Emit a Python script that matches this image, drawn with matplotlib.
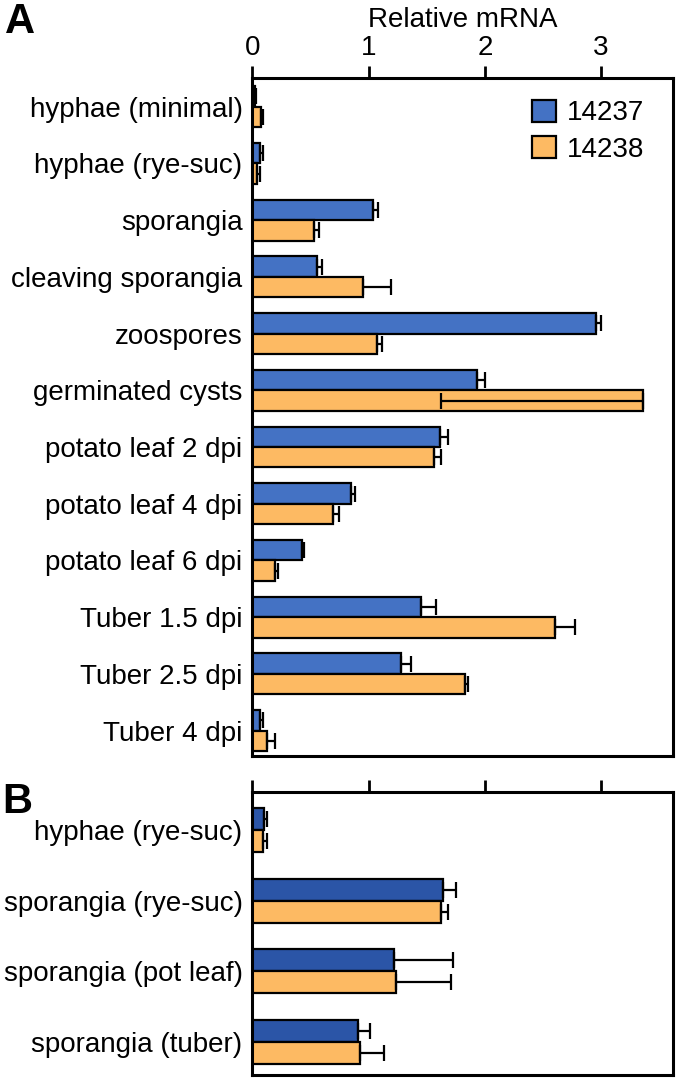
import numpy as np
import matplotlib
matplotlib.use("Agg")
import matplotlib.pyplot as plt
from matplotlib.patches import Patch

plt.rcParams['font.family'] = ['Liberation Sans', 'DejaVu Sans']

# ── data ──────────────────────────────────────────
samples_a = ["hyphae (minimal)", "hyphae (rye-suc)", "sporangia", "cleaving sporangia",
             "zoospores", "germinated cysts", "potato leaf 2 dpi", "potato leaf 4 dpi",
             "potato leaf 6 dpi", "Tuber 1.5 dpi", "Tuber 2.5 dpi", "Tuber 4 dpi"]
a_14237 = [0.025, 0.07, 1.034, 0.553, 2.959, 1.936, 1.618, 0.845, 0.43, 1.449, 1.283, 0.07]
a_14237_err = [0.01, 0.025, 0.043, 0.047, 0.041, 0.069, 0.066, 0.037, 0.017, 0.135, 0.086, 0.025]
a_14238 = [0.072, 0.044, 0.53, 0.954, 1.069, 3.36, 1.564, 0.696, 0.195, 2.60, 1.833, 0.13]
a_14238_err = [0.023, 0.026, 0.046, 0.243, 0.048, 0.0, 0.063, 0.049, 0.023, 0.172, 0.023, 0.065]
a_14238_err_low = [0, 0, 0, 0, 0, 1.74, 0, 0, 0, 0, 0, 0]

samples_b = ["hyphae (rye-suc)", "sporangia (rye-suc)", "sporangia (pot leaf)", "sporangia (tuber)"]
b_14237 = [0.10, 1.643, 1.216, 0.91]
b_14237_err = [0.03, 0.112, 0.509, 0.10]
b_14238 = [0.09, 1.625, 1.234, 0.93]
b_14238_err = [0.04, 0.055, 0.476, 0.20]

xticks = [0, 1, 2, 3]

BLUE_A = '#4472C4'
BLUE_B = '#2B55A7'
ORANGE = '#FDBA63'
FS = 20

fig = plt.figure(figsize=(6.8, 10.88), dpi=100)
axA = fig.add_axes([0.371, 0.305, 0.619, 0.623])
axB = fig.add_axes([0.371, 0.012, 0.619, 0.260])

def draw(ax, names, v1, e1, v2, e2, e2low, h, blue):
    y = np.arange(len(names))
    ekw = dict(ecolor='black', elinewidth=1.6, capsize=6, capthick=1.6)
    ax.barh(y - h / 2, v1, height=h, color=blue, edgecolor='black', linewidth=1.6,
            xerr=[np.zeros(len(v1)), e1], error_kw=ekw, label='14237')
    ax.barh(y + h / 2, v2, height=h, color=ORANGE, edgecolor='black', linewidth=1.6,
            xerr=[e2low, e2], error_kw=ekw, label='14238')
    ax.set_yticks(y)
    ax.set_yticklabels(names, fontsize=FS)
    ax.set_xlim(0, 3.62)
    ax.set_xticks(xticks)
    ax.xaxis.tick_top()
    ax.tick_params(axis='y', length=0, pad=7)
    ax.tick_params(axis='x', direction='out', length=9, width=2)
    for s in ax.spines.values():
        s.set_linewidth(2.2)

draw(axA, samples_a, a_14237, a_14237_err, a_14238, a_14238_err, a_14238_err_low, 0.36, BLUE_A)
axA.set_ylim(11.45, -0.5)
axA.set_xticklabels([str(t) for t in xticks], fontsize=20)
axA.xaxis.set_label_position('top')
axA.set_xlabel("Relative mRNA", fontsize=20, labelpad=6)
axA.legend(handles=[Patch(facecolor=BLUE_A, edgecolor='black', linewidth=1.6, label='14237'),
                    Patch(facecolor=ORANGE, edgecolor='black', linewidth=1.6, label='14238')],
           loc='upper right', bbox_to_anchor=(0.99, 1.005), frameon=False, fontsize=20,
           handlelength=0.83, handleheight=0.83, handletextpad=0.4, labelspacing=0.35)

draw(axB, samples_b, b_14237, b_14237_err, b_14238, b_14238_err, [0, 0, 0, 0], 0.31, BLUE_B)
axB.set_ylim(3.47, -0.54)
axB.set_xticklabels([])

fig.text(0.008, 0.98, "A", fontsize=30, fontweight='bold', va='center')
fig.text(0.004, 0.263, "B", fontsize=30, fontweight='bold', va='center')

fig.savefig("out.png", dpi=100)
